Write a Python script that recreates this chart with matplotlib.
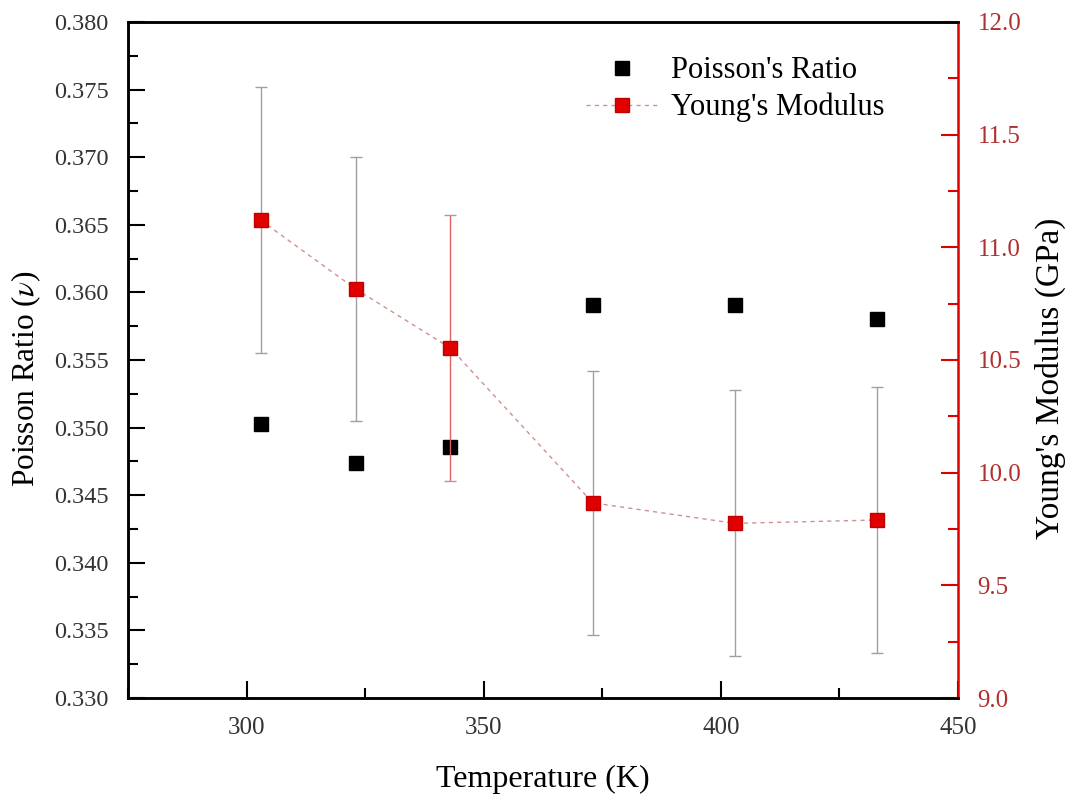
import numpy as np
import matplotlib
matplotlib.use("Agg")
import matplotlib.pyplot as plt
from matplotlib.ticker import MultipleLocator
from matplotlib.lines import Line2D

plt.rcParams['font.family'] = ['Liberation Serif', 'DejaVu Serif']
plt.rcParams['mathtext.fontset'] = 'stix'

# data
temperature = [303, 323, 343, 373, 403, 433]
poisson = [0.3503, 0.3474, 0.3486, 0.3591, 0.3591, 0.3580]
youngs = [11.12, 10.815, 10.553, 9.866, 9.775, 9.790]
youngs_err = [0.59, 0.585, 0.59, 0.585, 0.59, 0.59]
bar_colors = ['#a0a0a0', '#a0a0a0', '#e06060', '#a0a0a0', '#a0a0a0', '#a0a0a0']

fig = plt.figure(figsize=(10.7, 7.99), dpi=100)
ax = fig.add_axes([0.1196, 0.1264, 0.7757, 0.8461])
ax2 = ax.twinx()

# Poisson's ratio, black squares
p1, = ax.plot(temperature, poisson, 's', color='black', markersize=9.5,
              linestyle='none', label="Poisson's Ratio")

# Young's modulus, red squares on dashed line with error bars
eb = ax2.errorbar(temperature, youngs, yerr=youngs_err, fmt='s', color='#e00000',
                  markersize=10, markeredgecolor='#c00000', ecolor='#a0a0a0',
                  elinewidth=1.0, capsize=4.5, capthick=1.0, zorder=3)
eb[2][0].set_color(bar_colors)
for cap in eb[1]:
    cap.set_color('#e08080')
ax2.plot(temperature, youngs, '--', color='#d09090', linewidth=1.0,
         dashes=(3, 3), zorder=2)

ax.set_xlim(275, 450)
ax.set_ylim(0.330, 0.380)
ax2.set_ylim(9.0, 12.0)

ax.xaxis.set_major_locator(MultipleLocator(50))
ax.xaxis.set_minor_locator(MultipleLocator(25))
ax.yaxis.set_major_locator(MultipleLocator(0.005))
ax.yaxis.set_minor_locator(MultipleLocator(0.0025))
ax2.yaxis.set_major_locator(MultipleLocator(0.5))
ax2.yaxis.set_minor_locator(MultipleLocator(0.25))
ax.yaxis.set_major_formatter(plt.FormatStrFormatter('%.3f'))
ax2.yaxis.set_major_formatter(plt.FormatStrFormatter('%.1f'))

ax.tick_params(axis='both', which='major', direction='in', length=12, width=1.5,
               colors='black', labelcolor='#333333')
ax.tick_params(axis='y', which='major', pad=14, labelsize=17.5)
ax.tick_params(axis='x', which='major', pad=14, labelsize=18)
ax.tick_params(axis='both', which='minor', direction='in', length=7, width=1.5)
ax.tick_params(axis='x', which='both', top=False)
ax2.tick_params(axis='y', which='major', direction='in', length=12, width=1.5,
                labelsize=18, pad=14, colors='#e00000', labelcolor='#b03030')
ax2.tick_params(axis='y', which='minor', direction='in', length=7, width=1.5,
                colors='#e00000')

for side in ['left', 'top', 'bottom']:
    ax.spines[side].set_linewidth(1.8)
    ax2.spines[side].set_linewidth(1.8)
ax2.spines['right'].set_color('#e00000')
ax2.spines['right'].set_linewidth(1.8)
ax.spines['right'].set_visible(False)

ax.set_xlabel('Temperature (K)', fontsize=23, labelpad=18)
ax.set_ylabel(r'Poisson Ratio ($\nu$)', fontsize=22.5, labelpad=8)
ax2.set_ylabel("Young's Modulus (GPa)", fontsize=24, labelpad=10)
ax.yaxis.label.set_y(0.473)
ax2.yaxis.label.set_y(0.473)

h2 = Line2D([], [], color='#d09090', linestyle='--', linewidth=1.0,
            dashes=(3, 3), marker='s', markersize=10,
            markerfacecolor='#e00000', markeredgecolor='#c00000')
leg = ax.legend([p1, h2], ["Poisson's Ratio", "Young's Modulus"],
                loc='upper right', bbox_to_anchor=(0.945, 0.99), frameon=False,
                fontsize=22, handlelength=2.4, handletextpad=0.4,
                labelspacing=0.25)

fig.savefig('out.png', dpi=100)
